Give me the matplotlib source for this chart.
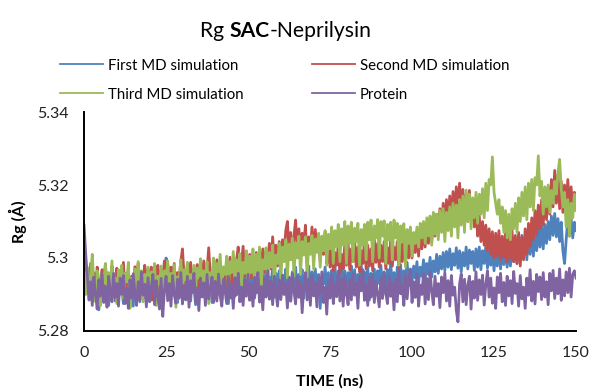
import numpy as np
import matplotlib.pyplot as plt

# time axis in ns, one reading every half ns
time_ns = np.arange(0, 301) * 0.5

# Rg values (Angstrom), 20 values per 10 ns
first_md = [
    5.2975, 5.2920, 5.2955, 5.2898, 5.2965, 5.2880, 5.2940, 5.2905, 5.2950, 5.2858, 5.2930, 5.2962, 5.2895, 5.2945, 5.2910, 5.2870, 5.2958, 5.2915, 5.2948, 5.2882,
    5.2942, 5.2900, 5.2960, 5.2918, 5.2875, 5.2950, 5.2905, 5.2966, 5.2890, 5.2935, 5.2868, 5.2955, 5.2912, 5.2945, 5.2880, 5.2962, 5.2920, 5.2892, 5.2952, 5.2900,
    5.2958, 5.2885, 5.2940, 5.2910, 5.2965, 5.2895, 5.2950, 5.2870, 5.2945, 5.2920, 5.3000, 5.2985, 5.2930, 5.2962, 5.2898, 5.2948, 5.2915, 5.2878, 5.2955, 5.2905,
    5.2960, 5.2890, 5.2940, 5.2915, 5.2968, 5.2882, 5.2950, 5.2925, 5.2872, 5.2945, 5.2905, 5.2962, 5.2895, 5.2935, 5.2888, 5.2958, 5.2912, 5.2946, 5.2878, 5.2960,
    5.2900, 5.2952, 5.2918, 5.2965, 5.2885, 5.2940, 5.2908, 5.2960, 5.2875, 5.2948, 5.2922, 5.2970, 5.2895, 5.2945, 5.2910, 5.2962, 5.2888, 5.2955, 5.2925, 5.2968,
    5.2902, 5.2950, 5.2915, 5.2966, 5.2890, 5.2945, 5.2928, 5.2972, 5.2880, 5.2955, 5.2910, 5.2960, 5.2898, 5.2948, 5.2925, 5.2975, 5.2892, 5.2958, 5.2915, 5.2965,
    5.2896, 5.2952, 5.2930, 5.2970, 5.2905, 5.2948, 5.2882, 5.2962, 5.2920, 5.2975, 5.2908, 5.2955, 5.2935, 5.2968, 5.2890, 5.2958, 5.2925, 5.2978, 5.2900, 5.2962,
    5.2918, 5.2970, 5.2905, 5.2955, 5.2862, 5.2945, 5.2928, 5.2975, 5.2910, 5.2960, 5.2895, 5.2966, 5.2930, 5.2980, 5.2912, 5.2952, 5.2902, 5.2972, 5.2925, 5.2965,
    5.2898, 5.2960, 5.2935, 5.2978, 5.2915, 5.2968, 5.2905, 5.2955, 5.2930, 5.2982, 5.2912, 5.2962, 5.2925, 5.2975, 5.2885, 5.2958, 5.2922, 5.2970, 5.2908, 5.2965,
    5.2930, 5.2980, 5.2915, 5.2962, 5.2900, 5.2968, 5.2935, 5.2985, 5.2920, 5.2960, 5.2910, 5.2975, 5.2938, 5.2982, 5.2918, 5.2965, 5.2940, 5.2988, 5.2925, 5.2970,
    5.2935, 5.2978, 5.2945, 5.2990, 5.2930, 5.2975, 5.2950, 5.2995, 5.2940, 5.2985, 5.2955, 5.3002, 5.2948, 5.2992, 5.2962, 5.3010, 5.2958, 5.3005, 5.2970, 5.3015,
    5.2965, 5.3018, 5.2975, 5.3025, 5.2968, 5.3012, 5.2980, 5.3028, 5.2972, 5.3020, 5.2962, 5.3015, 5.2978, 5.3030, 5.2970, 5.3022, 5.2985, 5.3018, 5.2966, 5.3025,
    5.2975, 5.3030, 5.2968, 5.3020, 5.2985, 5.3032, 5.2972, 5.3018, 5.2980, 5.3028, 5.2965, 5.3022, 5.2978, 5.3035, 5.2970, 5.3025, 5.2982, 5.3030, 5.2975, 5.3040,
    5.2978, 5.3035, 5.2990, 5.3048, 5.2985, 5.3055, 5.2998, 5.3062, 5.3005, 5.3058, 5.2995, 5.3068, 5.3010, 5.3072, 5.3005, 5.3065, 5.3020, 5.3080, 5.3030, 5.3088,
    5.3025, 5.3092, 5.3040, 5.3100, 5.3050, 5.3115, 5.3062, 5.3122, 5.3058, 5.3108, 5.3045, 5.3098, 5.3020, 5.2985, 5.3050, 5.3105, 5.3060, 5.3110, 5.3055, 5.3098,
    5.3075]

second_md = [
    5.2990, 5.2935, 5.2970, 5.2905, 5.2985, 5.2920, 5.2960, 5.2895, 5.2975, 5.2930, 5.2880, 5.2968, 5.2915, 5.2982, 5.2925, 5.2955, 5.2900, 5.2978, 5.2940, 5.2888,
    5.2972, 5.2918, 5.2965, 5.2930, 5.2988, 5.2905, 5.2958, 5.2935, 5.2868, 5.2950, 5.2912, 5.2976, 5.2928, 5.2985, 5.2900, 5.2962, 5.2938, 5.2980, 5.2910, 5.2970,
    5.2925, 5.2975, 5.2885, 5.2955, 5.2935, 5.2980, 5.2912, 5.2968, 5.2940, 5.2992, 5.2920, 5.2965, 5.2898, 5.2975, 5.2932, 5.2985, 5.2915, 5.2960, 5.2945, 5.2990,
    5.3025, 5.2950, 5.2910, 5.2978, 5.2935, 5.2988, 5.2920, 5.2970, 5.2945, 5.2982, 5.2905, 5.2975, 5.2938, 5.2992, 5.2928, 5.2965, 5.3028, 5.2948, 5.2915, 5.2980,
    5.2940, 5.2995, 5.2925, 5.2985, 5.2950, 5.2975, 5.2910, 5.2990, 5.2945, 5.3002, 5.2930, 5.2980, 5.2955, 5.2995, 5.3030, 5.2940, 5.2985, 5.3032, 5.2950, 5.2998,
    5.2960, 5.3010, 5.2945, 5.2995, 5.2968, 5.3015, 5.2955, 5.3005, 5.2975, 5.3025, 5.2960, 5.3018, 5.2985, 5.3040, 5.2970, 5.3058, 5.2990, 5.3035, 5.2978, 5.3045,
    5.2985, 5.3050, 5.3005, 5.3075, 5.3100, 5.3020, 5.3070, 5.2995, 5.3060, 5.3104, 5.3015, 5.3080, 5.3000, 5.3068, 5.3030, 5.3090, 5.2990, 5.3058, 5.3025, 5.3085,
    5.3005, 5.3078, 5.3020, 5.3065, 5.2990, 5.3050, 5.3010, 5.3070, 5.2985, 5.3040, 5.2975, 5.3025, 5.2965, 5.3015, 5.2980, 5.3035, 5.2958, 5.3010, 5.2970, 5.3038,
    5.2980, 5.3042, 5.2968, 5.3025, 5.2990, 5.3045, 5.2975, 5.3030, 5.2962, 5.3020, 5.2985, 5.3048, 5.2970, 5.3035, 5.2978, 5.3025, 5.2965, 5.3050, 5.2988, 5.3040,
    5.2975, 5.3035, 5.2990, 5.3045, 5.2970, 5.3028, 5.2985, 5.3052, 5.2978, 5.3030, 5.2995, 5.3045, 5.2972, 5.3038, 5.2990, 5.3055, 5.2985, 5.3040, 5.3000, 5.3060,
    5.3000, 5.3065, 5.3015, 5.3072, 5.3005, 5.3080, 5.3025, 5.3088, 5.3030, 5.3095, 5.3040, 5.3102, 5.3045, 5.3110, 5.3060, 5.3120, 5.3070, 5.3135, 5.3075, 5.3150,
    5.3085, 5.3160, 5.3095, 5.3170, 5.3105, 5.3182, 5.3110, 5.3195, 5.3125, 5.3205, 5.3130, 5.3188, 5.3115, 5.3175, 5.3100, 5.3185, 5.3105, 5.3160, 5.3085, 5.3140,
    5.3060, 5.3115, 5.3045, 5.3100, 5.3035, 5.3090, 5.3020, 5.3080, 5.3010, 5.3072, 5.3000, 5.3068, 5.3005, 5.3075, 5.2995, 5.3060, 5.3002, 5.3070, 5.2990, 5.3065,
    5.2998, 5.3075, 5.2990, 5.3062, 5.2985, 5.3070, 5.2978, 5.3058, 5.2995, 5.3080, 5.3010, 5.3095, 5.3030, 5.3110, 5.3050, 5.3130, 5.3065, 5.3145, 5.3080, 5.3160,
    5.3090, 5.3175, 5.3105, 5.3195, 5.3120, 5.3215, 5.3140, 5.3240, 5.3150, 5.3228, 5.3135, 5.3210, 5.3125, 5.3200, 5.3130, 5.3215, 5.3120, 5.3195, 5.3135, 5.3180,
    5.3150]

third_md = [
    5.2960, 5.2900, 5.2975, 5.2885, 5.2950, 5.3010, 5.2920, 5.2880, 5.2965, 5.2910, 5.2870, 5.2955, 5.2930, 5.2985, 5.2895, 5.2960, 5.2915, 5.2992, 5.2900, 5.2945,
    5.2875, 5.2968, 5.2925, 5.2980, 5.2890, 5.2958, 5.2935, 5.2988, 5.2862, 5.2945, 5.2915, 5.2970, 5.2905, 5.2990, 5.2930, 5.2965, 5.2880, 5.2955, 5.2920, 5.2975,
    5.2898, 5.2962, 5.2935, 5.2985, 5.2870, 5.2950, 5.2928, 5.2978, 5.2910, 5.2965, 5.2940, 5.2992, 5.2890, 5.2958, 5.2925, 5.2982, 5.2865, 5.2948, 5.2935, 5.2995,
    5.2905, 5.2968, 5.2940, 5.2988, 5.2885, 5.2955, 5.2930, 5.2980, 5.2912, 5.2972, 5.2945, 5.2998, 5.2895, 5.2965, 5.2935, 5.2990, 5.2875, 5.2960, 5.2948, 5.3000,
    5.2920, 5.2985, 5.2950, 5.3010, 5.2930, 5.2975, 5.2955, 5.3005, 5.2915, 5.2990, 5.2960, 5.3018, 5.2935, 5.2995, 5.2962, 5.3012, 5.2925, 5.2988, 5.2958, 5.3020,
    5.2915, 5.3005, 5.2960, 5.3025, 5.2925, 5.3010, 5.2945, 5.3030, 5.2918, 5.2995, 5.2970, 5.3028, 5.2930, 5.3015, 5.2975, 5.3035, 5.2922, 5.3008, 5.2985, 5.3040,
    5.2940, 5.3030, 5.2990, 5.3050, 5.2945, 5.3038, 5.2995, 5.3055, 5.2950, 5.3042, 5.3000, 5.3060, 5.2955, 5.3045, 5.3008, 5.3058, 5.2948, 5.3040, 5.3010, 5.3062,
    5.2970, 5.3052, 5.3015, 5.3068, 5.2975, 5.3060, 5.3020, 5.3075, 5.2980, 5.3065, 5.3025, 5.3085, 5.2985, 5.3075, 5.3030, 5.3092, 5.2990, 5.3080, 5.3035, 5.3100,
    5.2985, 5.3088, 5.3040, 5.3098, 5.2990, 5.3082, 5.3045, 5.3095, 5.2980, 5.3078, 5.3035, 5.3092, 5.2995, 5.3098, 5.3050, 5.3104, 5.2990, 5.3088, 5.3055, 5.3105,
    5.3000, 5.3100, 5.3060, 5.3102, 5.2985, 5.3092, 5.3050, 5.3098, 5.2995, 5.3104, 5.3055, 5.3095, 5.2980, 5.3088, 5.3045, 5.3094, 5.2975, 5.3078, 5.3040, 5.3085,
    5.3005, 5.3070, 5.3040, 5.3085, 5.3030, 5.3095, 5.3055, 5.3100, 5.3040, 5.3110, 5.3060, 5.3115, 5.3035, 5.3125, 5.3065, 5.3120, 5.3050, 5.3130, 5.3070, 5.3135,
    5.3045, 5.3125, 5.3075, 5.3140, 5.3060, 5.3150, 5.3085, 5.3145, 5.3055, 5.3160, 5.3090, 5.3170, 5.3070, 5.3186, 5.3100, 5.3175, 5.3080, 5.3165, 5.3110, 5.3180,
    5.3095, 5.3175, 5.3120, 5.3190, 5.3110, 5.3205, 5.3130, 5.3215, 5.3200, 5.3277, 5.3180, 5.3150, 5.3120, 5.3160, 5.3095, 5.3140, 5.3070, 5.3130, 5.3055, 5.3120,
    5.3050, 5.3135, 5.3080, 5.3150, 5.3070, 5.3165, 5.3100, 5.3180, 5.3115, 5.3195, 5.3105, 5.3205, 5.3140, 5.3215, 5.3130, 5.3220, 5.3200, 5.3280, 5.3170, 5.3210,
    5.3120, 5.3195, 5.3140, 5.3200, 5.3125, 5.3185, 5.3150, 5.3210, 5.3175, 5.3235, 5.3270, 5.3190, 5.3140, 5.3180, 5.3085, 5.3160, 5.3060, 5.3150, 5.3110, 5.3175,
    5.3130]

protein = [
    5.3090, 5.3010, 5.2950, 5.2885, 5.2935, 5.2870, 5.2948, 5.2902, 5.2860, 5.2940, 5.2895, 5.2955, 5.2878, 5.2922, 5.2865, 5.2950, 5.2910, 5.2880, 5.2958, 5.2892,
    5.2930, 5.2868, 5.2945, 5.2900, 5.2952, 5.2875, 5.2915, 5.2862, 5.2940, 5.2890, 5.2957, 5.2905, 5.2870, 5.2935, 5.2885, 5.2962, 5.2898, 5.2928, 5.2866, 5.2946,
    5.2880, 5.2920, 5.2955, 5.2872, 5.2938, 5.2895, 5.2860, 5.2944, 5.2840, 5.2912, 5.2950, 5.2883, 5.2930, 5.2868, 5.2952, 5.2900, 5.2876, 5.2942, 5.2890, 5.2960,
    5.2874, 5.2925, 5.2885, 5.2950, 5.2865, 5.2938, 5.2905, 5.2958, 5.2880, 5.2918, 5.2856, 5.2945, 5.2893, 5.2932, 5.2870, 5.2955, 5.2888, 5.2915, 5.2948, 5.2878,
    5.2936, 5.2882, 5.2956, 5.2897, 5.2868, 5.2942, 5.2908, 5.2875, 5.2950, 5.2890, 5.2928, 5.2862, 5.2946, 5.2899, 5.2958, 5.2880, 5.2920, 5.2870, 5.2940, 5.2895,
    5.2955, 5.2884, 5.2930, 5.2868, 5.2947, 5.2904, 5.2960, 5.2879, 5.2922, 5.2858, 5.2943, 5.2893, 5.2965, 5.2887, 5.2935, 5.2872, 5.2950, 5.2906, 5.2868, 5.2940,
    5.2886, 5.2953, 5.2900, 5.2930, 5.2863, 5.2945, 5.2882, 5.2958, 5.2910, 5.2874, 5.2948, 5.2892, 5.2935, 5.2850, 5.2925, 5.2960, 5.2885, 5.2940, 5.2870, 5.2952,
    5.2896, 5.2932, 5.2866, 5.2945, 5.2903, 5.2962, 5.2878, 5.2920, 5.2846, 5.2938, 5.2890, 5.2955, 5.2875, 5.2928, 5.2894, 5.2964, 5.2882, 5.2943, 5.2868, 5.2950,
    5.2905, 5.2872, 5.2940, 5.2885, 5.2957, 5.2898, 5.2930, 5.2862, 5.2948, 5.2910, 5.2968, 5.2884, 5.2925, 5.2870, 5.2946, 5.2893, 5.2955, 5.2878, 5.2935, 5.2900,
    5.2866, 5.2945, 5.2889, 5.2960, 5.2904, 5.2875, 5.2950, 5.2895, 5.2932, 5.2858, 5.2942, 5.2880, 5.2966, 5.2902, 5.2928, 5.2870, 5.2954, 5.2888, 5.2940, 5.2968,
    5.2878, 5.2935, 5.2892, 5.2955, 5.2868, 5.2926, 5.2900, 5.2958, 5.2874, 5.2944, 5.2886, 5.2962, 5.2910, 5.2872, 5.2950, 5.2895, 5.2930, 5.2864, 5.2948, 5.2905,
    5.2960, 5.2882, 5.2938, 5.2868, 5.2952, 5.2898, 5.2920, 5.2856, 5.2825, 5.2930, 5.2956, 5.2880, 5.2942, 5.2872, 5.2925, 5.2950, 5.2860, 5.2936, 5.2890, 5.2962,
    5.2884, 5.2940, 5.2900, 5.2953, 5.2871, 5.2928, 5.2965, 5.2893, 5.2945, 5.2876, 5.2918, 5.2862, 5.2948, 5.2905, 5.2958, 5.2880, 5.2933, 5.2870, 5.2950, 5.2896,
    5.2938, 5.2875, 5.2963, 5.2903, 5.2930, 5.2868, 5.2952, 5.2888, 5.2920, 5.2862, 5.2945, 5.2898, 5.2968, 5.2882, 5.2936, 5.2874, 5.2955, 5.2908, 5.2948, 5.2886,
    5.2960, 5.2893, 5.2935, 5.2872, 5.2958, 5.2910, 5.2966, 5.2889, 5.2945, 5.2902, 5.2970, 5.2884, 5.2940, 5.2896, 5.2962, 5.2905, 5.2972, 5.2893, 5.2955, 5.2965,
    5.2945]

series_names = ["First MD simulation", "Second MD simulation",
                "Third MD simulation", "Protein"]
series_colors = ["#4F81BD", "#C0504D", "#9BBB59", "#8064A2"]

x_ticks = [0, 25, 50, 75, 100, 125, 150]
y_ticks = [5.28, 5.30, 5.32, 5.34]
y_tick_labels = ["5.28", "5.3", "5.32", "5.34"]

plt.rcParams['font.family'] = ['Lato', 'DejaVu Sans']

fig = plt.figure(figsize=(5.92, 3.91), dpi=100)
ax = fig.add_axes([0.142, 0.1535, 0.831, 0.56])

lines = []
for vals, name, col in zip([first_md, second_md, third_md, protein],
                           series_names, series_colors):
    ln, = ax.plot(time_ns, vals, color=col, lw=2.0, label=name)
    lines.append(ln)

ax.set_xlim(0, 150)
ax.set_ylim(5.28, 5.34)
ax.set_xticks(x_ticks)
ax.set_yticks(y_ticks)
ax.set_yticklabels(y_tick_labels)
ax.tick_params(length=0, labelsize=11.5, colors='#222222')
ax.tick_params(axis='x', pad=11)
ax.tick_params(axis='y', pad=11)
for s in ['top', 'right']:
    ax.spines[s].set_visible(False)
for s in ['left', 'bottom']:
    ax.spines[s].set_linewidth(1.4)
    ax.spines[s].set_color('black')

ax.set_xlabel("TIME (ns)", fontsize=11.5, fontweight='bold', labelpad=10)
ax.set_ylabel("Rg (Å)", fontsize=11.5, fontweight='bold', labelpad=7)

# title with bold middle word
t1 = fig.text(0.338, 0.905, "Rg ", fontsize=15.2, va='baseline')
t2 = ax.annotate("SAC", xy=(1, 0), xycoords=t1, fontsize=15.2,
                 fontweight='bold', va='bottom')
ax.annotate("-Neprilysin", xy=(1, 0), xycoords=t2, fontsize=15.2, va='bottom')

# two legend columns
leg_kw = dict(loc='upper left', frameon=False, fontsize=10.8,
              handlelength=2.9, handletextpad=0.3, labelspacing=1.0,
              borderpad=0, borderaxespad=0)
for k, (a, b) in enumerate([(0, 2), (1, 3)]):
    leg = fig.legend([lines[a], lines[b]], [series_names[a], series_names[b]],
                     bbox_to_anchor=(0.101 if k == 0 else 0.527, 0.850),
                     **leg_kw)
    for h in leg.get_lines():
        h.set_linewidth(1.3)

fig.savefig("out.png", dpi=100)
